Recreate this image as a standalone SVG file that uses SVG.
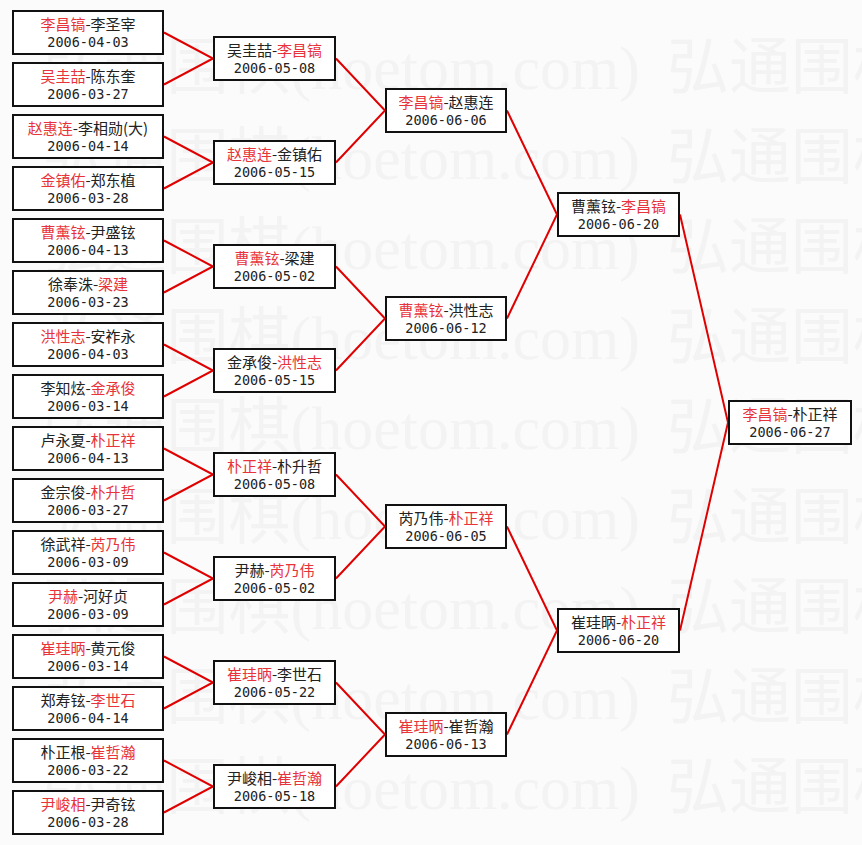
<svg xmlns="http://www.w3.org/2000/svg" width="862" height="845" viewBox="0 0 862 845">
<style>
.bg{fill:#fbfbfb}
.wm{font-family:"Liberation Serif","Noto Sans CJK SC",serif;font-size:62px;fill:#f3f3f3}
.box{fill:#ffffff;stroke:#111111;stroke-width:2}
.nm{font-family:"Noto Sans CJK SC","Noto Sans",sans-serif;font-size:15px;fill:#222222;text-anchor:middle}
.dt{font-family:"DejaVu Sans Mono","Liberation Mono",monospace;font-size:13.5px;fill:#222222;text-anchor:middle}
.w{fill:#e8333a}
.con{fill:none;stroke:#e00000;stroke-width:2}
</style>
<rect class="bg" x="0" y="0" width="862" height="845"/>
<g id="watermark">
<text class="wm" x="640" y="89" text-anchor="end">弘通围棋(hoetom.com)</text><text class="wm" x="667" y="89">弘通围棋</text>
<text class="wm" x="640" y="179" text-anchor="end">弘通围棋(hoetom.com)</text><text class="wm" x="667" y="179">弘通围棋</text>
<text class="wm" x="640" y="269" text-anchor="end">弘通围棋(hoetom.com)</text><text class="wm" x="667" y="269">弘通围棋</text>
<text class="wm" x="640" y="359" text-anchor="end">弘通围棋(hoetom.com)</text><text class="wm" x="667" y="359">弘通围棋</text>
<text class="wm" x="640" y="449" text-anchor="end">弘通围棋(hoetom.com)</text><text class="wm" x="667" y="449">弘通围棋</text>
<text class="wm" x="640" y="539" text-anchor="end">弘通围棋(hoetom.com)</text><text class="wm" x="667" y="539">弘通围棋</text>
<text class="wm" x="640" y="629" text-anchor="end">弘通围棋(hoetom.com)</text><text class="wm" x="667" y="629">弘通围棋</text>
<text class="wm" x="640" y="719" text-anchor="end">弘通围棋(hoetom.com)</text><text class="wm" x="667" y="719">弘通围棋</text>
<text class="wm" x="640" y="809" text-anchor="end">弘通围棋(hoetom.com)</text><text class="wm" x="667" y="809">弘通围棋</text>
</g>
<g id="connectors">
<polyline class="con" points="164,32.5 213,58.5 164,84.5"/>
<polyline class="con" points="164,136.5 213,162.5 164,188.5"/>
<polyline class="con" points="164,240.5 213,266.5 164,292.5"/>
<polyline class="con" points="164,344.5 213,370.5 164,396.5"/>
<polyline class="con" points="164,448.5 213,474.5 164,500.5"/>
<polyline class="con" points="164,552.5 213,578.5 164,604.5"/>
<polyline class="con" points="164,656.5 213,682.5 164,708.5"/>
<polyline class="con" points="164,760.5 213,786.5 164,812.5"/>
<polyline class="con" points="336,58.5 385,110.5 336,162.5"/>
<polyline class="con" points="336,266.5 385,318.5 336,370.5"/>
<polyline class="con" points="336,474.5 385,526.5 336,578.5"/>
<polyline class="con" points="336,682.5 385,734.5 336,786.5"/>
<polyline class="con" points="507,110.5 557,214.5 507,318.5"/>
<polyline class="con" points="507,526.5 557,630.5 507,734.5"/>
<polyline class="con" points="680,214.5 728,422.5 680,630.5"/>
</g>
<g id="r1-0"><rect class="box" x="13" y="11" width="150" height="43"/><text class="nm" x="88" y="30"><tspan class="w">李昌镐</tspan>-李圣宰</text><text class="dt" x="88" y="47">2006-04-03</text></g>
<g id="r1-1"><rect class="box" x="13" y="63" width="150" height="43"/><text class="nm" x="88" y="82"><tspan class="w">吴圭喆</tspan>-陈东奎</text><text class="dt" x="88" y="99">2006-03-27</text></g>
<g id="r1-2"><rect class="box" x="13" y="115" width="150" height="43"/><text class="nm" x="88" y="134"><tspan class="w">赵惠连</tspan>-李相勋(大)</text><text class="dt" x="88" y="151">2006-04-14</text></g>
<g id="r1-3"><rect class="box" x="13" y="167" width="150" height="43"/><text class="nm" x="88" y="186"><tspan class="w">金镇佑</tspan>-郑东植</text><text class="dt" x="88" y="203">2006-03-28</text></g>
<g id="r1-4"><rect class="box" x="13" y="219" width="150" height="43"/><text class="nm" x="88" y="238"><tspan class="w">曹薰铉</tspan>-尹盛铉</text><text class="dt" x="88" y="255">2006-04-13</text></g>
<g id="r1-5"><rect class="box" x="13" y="271" width="150" height="43"/><text class="nm" x="88" y="290">徐奉洙-<tspan class="w">梁建</tspan></text><text class="dt" x="88" y="307">2006-03-23</text></g>
<g id="r1-6"><rect class="box" x="13" y="323" width="150" height="43"/><text class="nm" x="88" y="342"><tspan class="w">洪性志</tspan>-安祚永</text><text class="dt" x="88" y="359">2006-04-03</text></g>
<g id="r1-7"><rect class="box" x="13" y="375" width="150" height="43"/><text class="nm" x="88" y="394">李知炫-<tspan class="w">金承俊</tspan></text><text class="dt" x="88" y="411">2006-03-14</text></g>
<g id="r1-8"><rect class="box" x="13" y="427" width="150" height="43"/><text class="nm" x="88" y="446">卢永夏-<tspan class="w">朴正祥</tspan></text><text class="dt" x="88" y="463">2006-04-13</text></g>
<g id="r1-9"><rect class="box" x="13" y="479" width="150" height="43"/><text class="nm" x="88" y="498">金宗俊-<tspan class="w">朴升哲</tspan></text><text class="dt" x="88" y="515">2006-03-27</text></g>
<g id="r1-10"><rect class="box" x="13" y="531" width="150" height="43"/><text class="nm" x="88" y="550">徐武祥-<tspan class="w">芮乃伟</tspan></text><text class="dt" x="88" y="567">2006-03-09</text></g>
<g id="r1-11"><rect class="box" x="13" y="583" width="150" height="43"/><text class="nm" x="88" y="602"><tspan class="w">尹赫</tspan>-河好贞</text><text class="dt" x="88" y="619">2006-03-09</text></g>
<g id="r1-12"><rect class="box" x="13" y="635" width="150" height="43"/><text class="nm" x="88" y="654"><tspan class="w">崔珪昞</tspan>-黄元俊</text><text class="dt" x="88" y="671">2006-03-14</text></g>
<g id="r1-13"><rect class="box" x="13" y="687" width="150" height="43"/><text class="nm" x="88" y="706">郑寿铉-<tspan class="w">李世石</tspan></text><text class="dt" x="88" y="723">2006-04-14</text></g>
<g id="r1-14"><rect class="box" x="13" y="739" width="150" height="43"/><text class="nm" x="88" y="758">朴正根-<tspan class="w">崔哲瀚</tspan></text><text class="dt" x="88" y="775">2006-03-22</text></g>
<g id="r1-15"><rect class="box" x="13" y="791" width="150" height="43"/><text class="nm" x="88" y="810"><tspan class="w">尹峻相</tspan>-尹奇铉</text><text class="dt" x="88" y="827">2006-03-28</text></g>
<g id="r2-0"><rect class="box" x="214" y="37" width="121" height="43"/><text class="nm" x="274.5" y="56">吴圭喆-<tspan class="w">李昌镐</tspan></text><text class="dt" x="274.5" y="73">2006-05-08</text></g>
<g id="r2-1"><rect class="box" x="214" y="141" width="121" height="43"/><text class="nm" x="274.5" y="160"><tspan class="w">赵惠连</tspan>-金镇佑</text><text class="dt" x="274.5" y="177">2006-05-15</text></g>
<g id="r2-2"><rect class="box" x="214" y="245" width="121" height="43"/><text class="nm" x="274.5" y="264"><tspan class="w">曹薰铉</tspan>-梁建</text><text class="dt" x="274.5" y="281">2006-05-02</text></g>
<g id="r2-3"><rect class="box" x="214" y="349" width="121" height="43"/><text class="nm" x="274.5" y="368">金承俊-<tspan class="w">洪性志</tspan></text><text class="dt" x="274.5" y="385">2006-05-15</text></g>
<g id="r2-4"><rect class="box" x="214" y="453" width="121" height="43"/><text class="nm" x="274.5" y="472"><tspan class="w">朴正祥</tspan>-朴升哲</text><text class="dt" x="274.5" y="489">2006-05-08</text></g>
<g id="r2-5"><rect class="box" x="214" y="557" width="121" height="43"/><text class="nm" x="274.5" y="576">尹赫-<tspan class="w">芮乃伟</tspan></text><text class="dt" x="274.5" y="593">2006-05-02</text></g>
<g id="r2-6"><rect class="box" x="214" y="661" width="121" height="43"/><text class="nm" x="274.5" y="680"><tspan class="w">崔珪昞</tspan>-李世石</text><text class="dt" x="274.5" y="697">2006-05-22</text></g>
<g id="r2-7"><rect class="box" x="214" y="765" width="121" height="43"/><text class="nm" x="274.5" y="784">尹峻相-<tspan class="w">崔哲瀚</tspan></text><text class="dt" x="274.5" y="801">2006-05-18</text></g>
<g id="r3-0"><rect class="box" x="386" y="89" width="120" height="43"/><text class="nm" x="446" y="108"><tspan class="w">李昌镐</tspan>-赵惠连</text><text class="dt" x="446" y="125">2006-06-06</text></g>
<g id="r3-1"><rect class="box" x="386" y="297" width="120" height="43"/><text class="nm" x="446" y="316"><tspan class="w">曹薰铉</tspan>-洪性志</text><text class="dt" x="446" y="333">2006-06-12</text></g>
<g id="r3-2"><rect class="box" x="386" y="505" width="120" height="43"/><text class="nm" x="446" y="524">芮乃伟-<tspan class="w">朴正祥</tspan></text><text class="dt" x="446" y="541">2006-06-05</text></g>
<g id="r3-3"><rect class="box" x="386" y="713" width="120" height="43"/><text class="nm" x="446" y="732"><tspan class="w">崔珪昞</tspan>-崔哲瀚</text><text class="dt" x="446" y="749">2006-06-13</text></g>
<g id="r4-0"><rect class="box" x="558" y="193" width="121" height="43"/><text class="nm" x="618.5" y="212">曹薰铉-<tspan class="w">李昌镐</tspan></text><text class="dt" x="618.5" y="229">2006-06-20</text></g>
<g id="r4-1"><rect class="box" x="558" y="609" width="121" height="43"/><text class="nm" x="618.5" y="628">崔珪昞-<tspan class="w">朴正祥</tspan></text><text class="dt" x="618.5" y="645">2006-06-20</text></g>
<g id="final"><rect class="box" x="729" y="401" width="122" height="43"/><text class="nm" x="790" y="420"><tspan class="w">李昌镐</tspan>-朴正祥</text><text class="dt" x="790" y="437">2006-06-27</text></g>
</svg>
